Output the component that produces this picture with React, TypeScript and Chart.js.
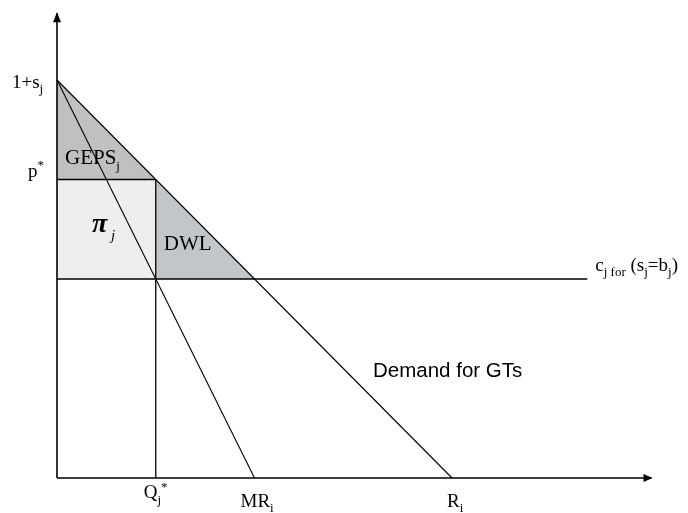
import React, { useEffect, useRef } from "react";
import { Chart, registerables } from "chart.js";
Chart.register(...registerables);

// Economic diagram data (quantity on x, price on y)
const demandLine = [{ x: 0, y: 4 }, { x: 4, y: 0 }];
const mrLine = [{ x: 0, y: 4 }, { x: 2, y: 0 }];
const pStarLine = [{ x: 0, y: 3 }, { x: 1, y: 3 }];
const qStarLine = [{ x: 1, y: 3 }, { x: 1, y: 0 }];
const costLine = [{ x: 0, y: 2 }, { x: 5.37, y: 2 }];
const gepsArea = [{ x: 0, y: 4 }, { x: 1, y: 3 }, { x: 0, y: 3 }, { x: 0, y: 4 }];
const profitArea = [{ x: 0, y: 3 }, { x: 1, y: 3 }, { x: 1, y: 2 }, { x: 0, y: 2 }, { x: 0, y: 3 }];
const dwlArea = [{ x: 1, y: 3 }, { x: 2, y: 2 }, { x: 1, y: 2 }, { x: 1, y: 3 }];
const xAxisLine = [{ x: 0, y: 0 }, { x: 6.02, y: 0 }];
const yAxisLine = [{ x: 0, y: 0 }, { x: 0, y: 4.67 }];

const SERIF = "'Liberation Serif', 'Times New Roman', serif";
const SANS = "'Liberation Sans', Arial, sans-serif";

type Part = { t: string; size: number; dy?: number; style?: string; family?: string };

function drawRich(ctx: CanvasRenderingContext2D, x: number, y: number, parts: Part[]) {
  let cx = x;
  for (const p of parts) {
    ctx.font = `${p.style || ""} ${p.size}px ${p.family || SERIF}`;
    ctx.fillText(p.t, cx, y + (p.dy || 0));
    cx += ctx.measureText(p.t).width;
  }
}

const annotPlugin = {
  id: "annot",
  afterDatasetsDraw(chart: any) {
    const ctx = chart.ctx as CanvasRenderingContext2D;
    const xs = chart.scales.x;
    const ys = chart.scales.y;
    const px = (v: number) => xs.getPixelForValue(v);
    const py = (v: number) => ys.getPixelForValue(v);
    ctx.save();
    ctx.fillStyle = "#000";
    // arrowheads
    const xt = px(xAxisLine[1].x), yb = py(0);
    ctx.beginPath();
    ctx.moveTo(xt + 1, yb);
    ctx.lineTo(xt - 8, yb - 4);
    ctx.lineTo(xt - 8, yb + 4);
    ctx.closePath();
    ctx.fill();
    const yt = py(yAxisLine[1].y), xl = px(0);
    ctx.beginPath();
    ctx.moveTo(xl, yt - 1);
    ctx.lineTo(xl - 4, yt + 9);
    ctx.lineTo(xl + 4, yt + 9);
    ctx.closePath();
    ctx.fill();

    ctx.textBaseline = "alphabetic";
    ctx.textAlign = "left";
    const x0 = px(0);
    drawRich(ctx, x0 - 45, py(4) + 8, [
      { t: "1+s", size: 19 },
      { t: "j", size: 13, dy: 5 },
    ]);
    drawRich(ctx, x0 - 29, py(3) - 3, [
      { t: "p", size: 19 },
      { t: "*", size: 13, dy: -8 },
    ]);
    drawRich(ctx, x0 + 8, py(3) - 16, [
      { t: "GEPS", size: 21 },
      { t: "j", size: 13, dy: 6 },
    ]);
    drawRich(ctx, x0 + 35, py(2.5) + 3, [
      { t: "π", size: 28, style: "italic bold" },
      { t: " j", size: 15, dy: 8, style: "italic" },
    ]);
    drawRich(ctx, px(1) + 8, py(2) - 29, [{ t: "DWL", size: 21 }]);
    drawRich(ctx, px(costLine[1].x) + 8, py(2) - 8, [
      { t: "c", size: 19 },
      { t: "j for", size: 13, dy: 5 },
      { t: " (s", size: 19 },
      { t: "j", size: 13, dy: 5 },
      { t: "=b", size: 19 },
      { t: "j", size: 13, dy: 5 },
      { t: ")", size: 19 },
    ]);
    drawRich(ctx, px(1) - 12, py(0) + 20, [
      { t: "Q", size: 19 },
      { t: "j", size: 13, dy: 6 },
      { t: "*", size: 13, dy: -7 },
    ]);
    drawRich(ctx, px(2) - 14, py(0) + 29, [
      { t: "MR", size: 19 },
      { t: "i", size: 13, dy: 5 },
    ]);
    drawRich(ctx, px(4) - 5, py(0) + 29, [
      { t: "R", size: 19 },
      { t: "i", size: 13, dy: 5 },
    ]);
    drawRich(ctx, px(3.2), py(1.02), [{ t: "Demand for GTs", size: 20.5, family: SANS }]);
    ctx.restore();
  },
};

export default function App() {
  const ref = useRef<HTMLCanvasElement | null>(null);
  useEffect(() => {
    if (!ref.current) return;
    const line = (data: any, w = 1.2) => ({
      data,
      showLine: true,
      borderColor: "#000",
      borderWidth: w,
      pointRadius: 0,
      fill: false,
      clip: false,
      order: 0,
    });
    const area = (data: any, color: string) => ({
      data,
      showLine: true,
      borderWidth: 0,
      borderColor: "rgba(0,0,0,0)",
      backgroundColor: color,
      pointRadius: 0,
      fill: "shape",
      clip: false,
      order: 10,
    });
    const chart = new Chart(ref.current, {
      type: "scatter",
      data: {
        datasets: [
          line(xAxisLine, 1.6),
          line(yAxisLine, 1.6),
          line(demandLine, 1.1),
          line(mrLine, 1.1),
          line(pStarLine, 1.5),
          line(qStarLine, 1.3),
          line(costLine, 1.5),
          area(gepsArea, "#c0c0c0"),
          area(profitArea, "#eeeeee"),
          area(dwlArea, "#c2c6c9"),
        ] as any,
      },
      options: {
        animation: false,
        responsive: false,
        maintainAspectRatio: false,
        layout: { padding: { left: 57, right: 28.6, top: 10.35, bottom: 35 } },
        scales: {
          x: { type: "linear", min: 0, max: 6.1, display: false },
          y: { type: "linear", min: 0, max: 4.7, display: false },
        },
        plugins: { legend: { display: false }, tooltip: { enabled: false } },
      },
      plugins: [annotPlugin],
    });
    return () => chart.destroy();
  }, []);
  return (
    <div style={{ position: "fixed", left: 0, top: 0, width: 688, height: 513, background: "#fff" }}>
      <canvas ref={ref} width={688} height={513} style={{ display: "block" }} />
    </div>
  );
}
